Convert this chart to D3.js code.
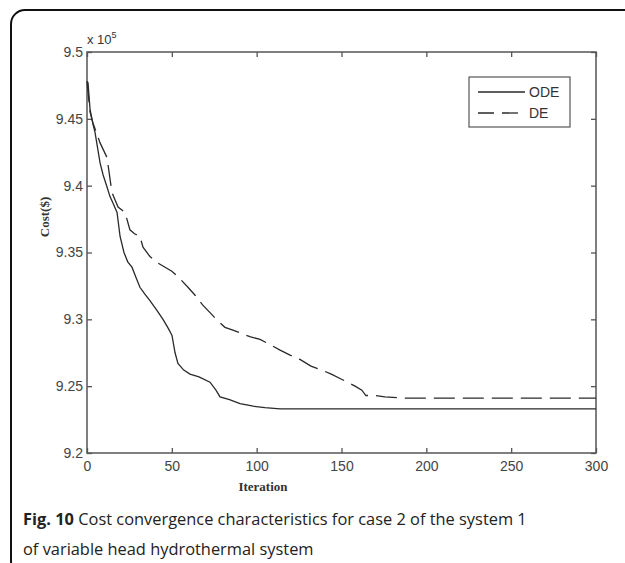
<!DOCTYPE html>
<html><head><meta charset="utf-8">
<script src="https://cdn.jsdelivr.net/npm/d3@7"></script>
<style>body{margin:0;background:#fff;}svg{display:block;}</style>
</head><body>
<svg id="c" width="625" height="563"></svg>
<script>
const odeIter = [0,0.6,1.8,3.5,4.7,7.7,9.5,11.8,13.5,15.3,17.7,19.5,21.8,24,26.5,29,31.2,34,37.1,41,44.8,48,50.1,51.9,53.6,57,60.7,66,72.5,76,78.4,84,90.2,98,104.9,113.8,300];
const odeCost = [9.478,9.477,9.457,9.446,9.44,9.417,9.408,9.399,9.392,9.387,9.38,9.362,9.35,9.343,9.339,9.331,9.324,9.319,9.314,9.307,9.30,9.293,9.288,9.275,9.267,9.262,9.259,9.257,9.253,9.247,9.242,9.240,9.237,9.235,9.234,9.233,9.233];
const deIter = [0,1.8,3.5,7.7,11.8,14.7,18.3,22.4,25.3,28,31.2,33,37.1,42,46,50,53.6,59.5,63.7,68,72.5,77,81.3,86,90.2,96,102,108,113.8,120,125.5,132,138.5,144,150.3,158,162,164.4,170,175.6,187.4,300];
const deCost = [9.478,9.455,9.447,9.432,9.421,9.395,9.384,9.38,9.367,9.364,9.362,9.354,9.347,9.342,9.339,9.336,9.332,9.324,9.318,9.311,9.305,9.299,9.294,9.292,9.29,9.287,9.285,9.281,9.277,9.273,9.27,9.265,9.262,9.259,9.255,9.25,9.247,9.243,9.243,9.242,9.241,9.241];
const xTicks = [0,50,100,150,200,250,300];
const yTicks = [9.2,9.25,9.3,9.35,9.4,9.45,9.5];
const seriesNames = ["ODE","DE"];

const svg = d3.select("#c");
svg.append("rect").attr("x",11).attr("y",10).attr("width",640).attr("height",565)
  .attr("rx",14).attr("fill","none").attr("stroke","#111").attr("stroke-width",2);

const L=87,R=596,T=52,B=453;
const x = d3.scaleLinear().domain([0,300]).range([L,R]);
const y = d3.scaleLinear().domain([9.2,9.5]).range([B,T]);
const axisCol="#555";
const g = svg.append("g");
const sans="Liberation Sans, Arial, sans-serif";

function styleAxis(sel){
  sel.selectAll(".domain").remove();
  sel.selectAll(".tick line").attr("stroke",axisCol).attr("stroke-width",1.3);
  sel.selectAll(".tick text").attr("fill","#444").attr("font-family",sans).attr("font-size",14);
}
g.append("g").attr("transform",`translate(0,${B})`)
  .call(d3.axisBottom(x).tickValues(xTicks).tickSize(-5).tickPadding(8).tickFormat(d3.format("d")))
  .call(styleAxis);
g.append("g").attr("transform",`translate(0,${T})`)
  .call(d3.axisTop(x).tickValues(xTicks).tickSize(-5).tickFormat(""))
  .call(styleAxis);
g.append("g").attr("transform",`translate(${L},0)`)
  .call(d3.axisLeft(y).tickValues(yTicks).tickSize(-5).tickPadding(4).tickFormat(d=>String(+d.toFixed(2))))
  .call(styleAxis);
g.append("g").attr("transform",`translate(${R},0)`)
  .call(d3.axisRight(y).tickValues(yTicks).tickSize(-5).tickFormat(""))
  .call(styleAxis);
g.append("rect").attr("x",L).attr("y",T).attr("width",R-L).attr("height",B-T)
  .attr("fill","none").attr("stroke",axisCol).attr("stroke-width",1.5);

const ex = svg.append("text").attr("x",87).attr("y",44).attr("font-family",sans)
  .attr("font-size",13).attr("fill","#333");
ex.append("tspan").text("x 10");
ex.append("tspan").attr("font-size",9).attr("dy",-6).text("5");

const line = d3.line().x(d=>x(d[0])).y(d=>y(d[1]));
const lineCol="#2a2a2a";
svg.append("path").datum(odeIter.map((v,i)=>[v,odeCost[i]])).attr("d",line)
  .attr("fill","none").attr("stroke",lineCol).attr("stroke-width",1.3);
svg.append("path").datum(deIter.map((v,i)=>[v,deCost[i]])).attr("d",line)
  .attr("fill","none").attr("stroke",lineCol).attr("stroke-width",1.3).attr("stroke-dasharray","21,8");

const lg = svg.append("g");
lg.append("rect").attr("x",469).attr("y",77).attr("width",101).attr("height",50)
  .attr("fill","#fff").attr("stroke","#555").attr("stroke-width",1.2);
seriesNames.forEach((n,i)=>{
  const yy = 92 + i*21;
  lg.append("line").attr("x1",478).attr("x2",525).attr("y1",yy).attr("y2",yy)
    .attr("stroke",lineCol).attr("stroke-width",1.3).attr("stroke-dasharray",i?"16,8":null);
  lg.append("text").attr("x",529).attr("y",yy+5).text(n)
    .attr("font-family",sans).attr("font-size",14).attr("fill","#333");
});

svg.append("text").attr("x",263).attr("y",491).attr("text-anchor","middle")
  .attr("font-family","Liberation Serif, Times New Roman, serif").attr("font-weight","bold")
  .attr("font-size",13).attr("fill","#333").text("Iteration");
svg.append("text").attr("transform",`translate(49,217) rotate(-90)`).attr("text-anchor","middle")
  .attr("font-family","Liberation Serif, Times New Roman, serif").attr("font-weight","bold")
  .attr("font-size",13).attr("fill","#333").text("Cost($)");

const cap = svg.append("text").attr("x",23).attr("y",525)
  .attr("font-family","Open Sans, sans-serif").attr("font-size",16.4).attr("fill","#222");
cap.append("tspan").attr("font-weight","bold").text("Fig. 10");
cap.append("tspan").text(" Cost convergence characteristics for case 2 of the system 1");
svg.append("text").attr("x",23).attr("y",555)
  .attr("font-family","Open Sans, sans-serif").attr("font-size",16.4).attr("fill","#222")
  .text("of variable head hydrothermal system");
</script>
</body></html>
